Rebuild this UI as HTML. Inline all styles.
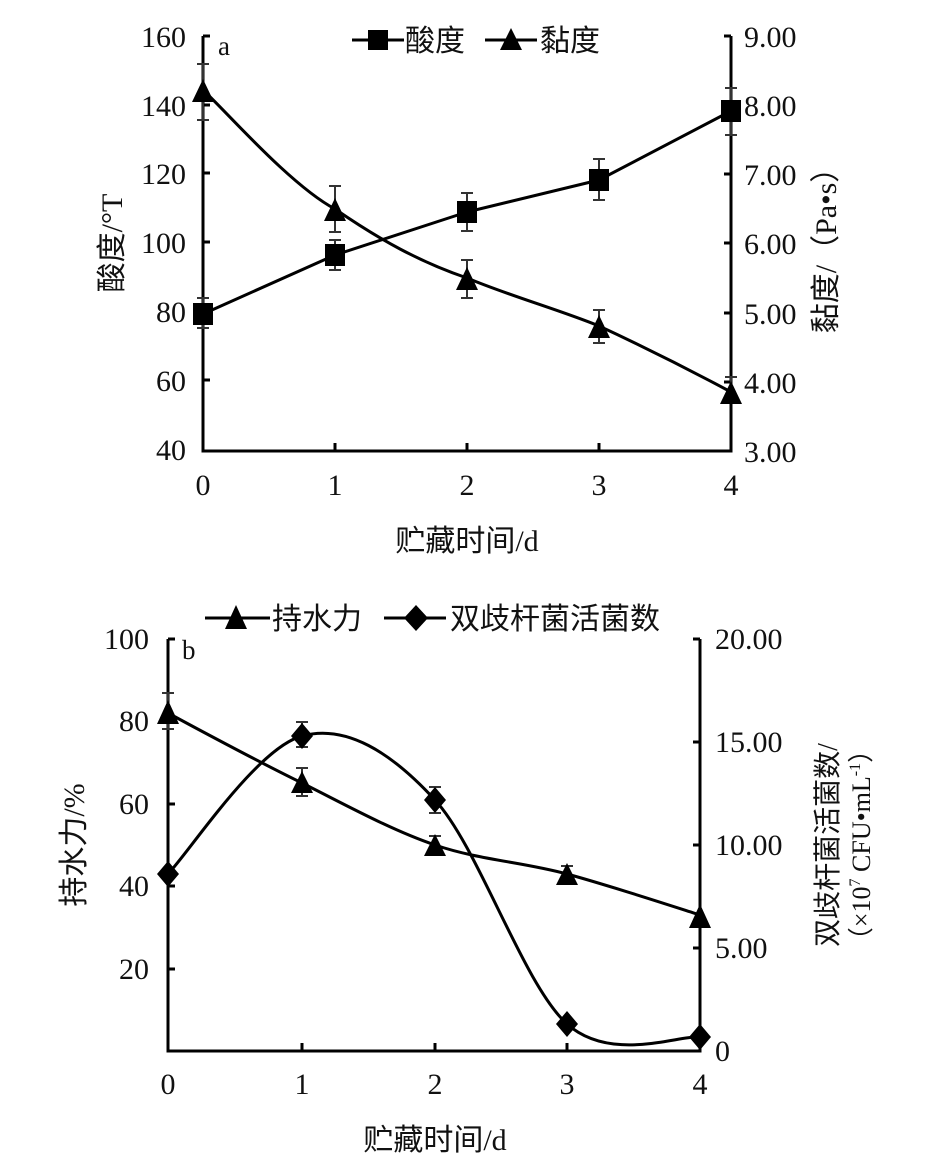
<!DOCTYPE html>
<html><head><meta charset="utf-8"><style>
body{margin:0;background:#fff}
svg{display:block}
text{font-family:"Liberation Serif","Noto Serif CJK SC",serif;fill:#111}
.c{font-family:"Liberation Serif","Noto Sans CJK SC",sans-serif}
</style></head><body>
<svg width="948" height="1173" viewBox="0 0 948 1173" xmlns="http://www.w3.org/2000/svg">
<g stroke="#000" stroke-width="3" fill="none">
<path d="M203 36 V451 H731 V36"/>
<path d="M203 36h7M203 105h7M203 173h7M203 242h7M203 311h7M203 380h7"/>
<path d="M731 36h-7M731 105h-7M731 174h-7M731 243h-7M731 313h-7M731 382h-7"/>
<path d="M335 451v-8M467 451v-8M599 451v-8"/>
<polyline points="203,314 335,255 467,212 599,180 731,111" stroke-linejoin="round"/>
<path d="M203,90 C225,110 290,185 335,209 C380,240 420,262 467,278 C510,296 560,310 599,326 C640,345 690,370 731,392"/>
</g>
<g stroke="#333" stroke-width="2" fill="none">
<path d="M203 64v56M197 64h12M197 120h12 M203 298v30M197 298h12M197 328h12"/>
<path d="M335 186v46M329 186h12M329 232h12 M335 240v30M329 240h12M329 270h12"/>
<path d="M467 193v38M461 193h12M461 231h12 M467 260v38M461 260h12M461 298h12"/>
<path d="M599 159v41M593 159h12M593 200h12 M599 310v33M593 310h12M593 343h12"/>
<path d="M731 88v47M725 88h12M725 135h12 M731 377v20M725 377h12M725 397h12"/>
</g>
<g fill="#000">
<rect x="193" y="303" width="20" height="22"/><rect x="325" y="244" width="20" height="22"/><rect x="457" y="201" width="20" height="22"/><rect x="589" y="169" width="20" height="22"/><rect x="721" y="100" width="20" height="22"/>
<path d="M203 79l11 23h-22zM335 198l11 23h-22zM467 267l11 23h-22zM599 315l11 23h-22zM731 381l11 23h-22z"/>
</g>
<g stroke="#000" stroke-width="3"><path d="M352 40h52M485 40h52"/></g>
<rect x="368" y="30" width="20" height="20"/>
<path d="M511 28l11 22h-22z"/>
<text x="405" y="51" font-size="30" class="c">酸度</text>
<text x="540" y="51" font-size="30" class="c">黏度</text>
<text x="218" y="55" font-size="27">a</text>
<g font-size="30" text-anchor="end">
<text x="186" y="47">160</text><text x="186" y="116">140</text><text x="186" y="184">120</text><text x="186" y="253">100</text><text x="186" y="322">80</text><text x="186" y="391">60</text><text x="186" y="460">40</text>
</g>
<g font-size="30">
<text x="744" y="47">9.00</text><text x="744" y="116">8.00</text><text x="744" y="185">7.00</text><text x="744" y="254">6.00</text><text x="744" y="324">5.00</text><text x="744" y="393">4.00</text><text x="744" y="462">3.00</text>
</g>
<g font-size="30" text-anchor="middle">
<text x="203" y="495">0</text><text x="335" y="495">1</text><text x="467" y="495">2</text><text x="599" y="495">3</text><text x="731" y="495">4</text>
<text x="467" y="551" class="c">贮藏时间/d</text>
</g>
<text transform="translate(122,243) rotate(-90)" font-size="30" text-anchor="middle" class="c">酸度/°T</text>
<text transform="translate(836,243) rotate(-90)" font-size="30" text-anchor="middle" class="c">黏度/（Pa•s）</text>

<g stroke="#000" stroke-width="3" fill="none">
<path d="M168 639 V1051 H700 V639"/>
<path d="M168 639h7M168 721h7M168 804h7M168 886h7M168 969h7"/>
<path d="M700 639h-7M700 742h-7M700 845h-7M700 948h-7"/>
<path d="M302 1051v-8M435 1051v-8M567 1051v-8"/>
<path d="M168,713 C190,725 257,761 302,783 C346,805 391,830 435,845 C479,860 523,862 567,874 C611,886 678,908 700,915"/>
<path d="M168,874 C190,851 257,748 302,736 C346,724 391,752 435,800 C479,848 523,984 567,1024 C611,1063 678,1035 700,1037"/>
</g>
<g stroke="#333" stroke-width="2" fill="none">
<path d="M168 693v36M162 693h12M162 729h12 M302 722v25M296 722h12M296 747h12 M302 768v28M296 768h12M296 796h12"/>
<path d="M435 787v26M429 787h12M429 813h12 M435 836v18M429 836h12M429 854h12 M567 866v16M561 866h12M561 882h12"/>
</g>
<g fill="#000">
<path d="M168 700l11 24h-22zM302 771l11 22h-22zM435 834l11 22h-22zM567 863l11 22h-22zM700 904l11 24h-22z"/>
<path d="M168 861l11 13-11 13-11-13zM302 723l11 13-11 13-11-13zM435 787l11 13-11 13-11-13zM567 1011l11 13-11 13-11-13zM700 1024l11 13-11 13-11-13z"/>
</g>
<g stroke="#000" stroke-width="3"><path d="M205 618h65M384 618h62"/></g>
<path d="M236 605l11 24h-22z"/>
<path d="M416 605l12 13-12 13-12-13z"/>
<text x="272" y="629" font-size="30" class="c">持水力</text>
<text x="450" y="629" font-size="30" class="c">双歧杆菌活菌数</text>
<text x="182" y="659" font-size="27">b</text>
<g font-size="30" text-anchor="end">
<text x="149" y="649">100</text><text x="149" y="731">80</text><text x="149" y="814">60</text><text x="149" y="896">40</text><text x="149" y="979">20</text>
</g>
<g font-size="30">
<text x="715" y="649">20.00</text><text x="715" y="752">15.00</text><text x="715" y="855">10.00</text><text x="715" y="958">5.00</text><text x="715" y="1061">0</text>
</g>
<g font-size="30" text-anchor="middle">
<text x="168" y="1094">0</text><text x="302" y="1094">1</text><text x="435" y="1094">2</text><text x="567" y="1094">3</text><text x="700" y="1094">4</text>
<text x="435" y="1150" class="c">贮藏时间/d</text>
</g>
<text transform="translate(84,845) rotate(-90)" font-size="30" text-anchor="middle" class="c">持水力/%</text>
<text transform="translate(837,845) rotate(-90)" font-size="28" text-anchor="middle" class="c">双歧杆菌活菌数/</text>
<text transform="translate(870,845) rotate(-90)" font-size="26" text-anchor="middle" class="c">（×10<tspan font-size="16" dy="-10">7</tspan><tspan dy="10"> CFU•mL</tspan><tspan font-size="16" dy="-10">-1</tspan><tspan dy="10">）</tspan></text>
</svg>
</body></html>
